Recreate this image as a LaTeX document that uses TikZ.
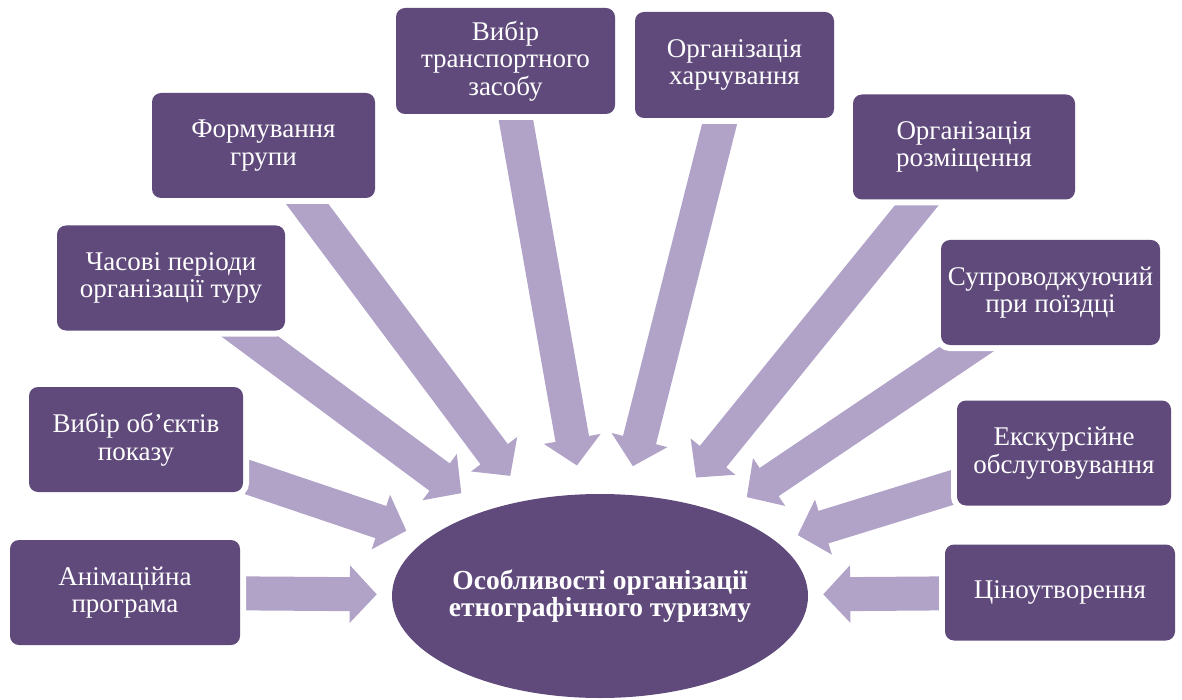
\documentclass[tikz,border=0pt]{standalone}
\usepackage{fontspec}
\setmainfont{Liberation Serif}
\usetikzlibrary{arrows.meta,shapes.geometric,backgrounds}
\definecolor{etnoplum}{RGB}{95,74,123}
\definecolor{etnolilac}{RGB}{177,162,200}

\begin{document}
\begin{tikzpicture}[x=1pt, y=-1pt,
    item/.style={rectangle, rounded corners=9pt, fill=etnoplum, text=white,
      preaction={draw=white, line width=12pt}, align=center, inner sep=0pt,
      minimum height=105pt, font=\fontsize{27}{27.5}\selectfont},
    hub/.style={ellipse, fill=etnoplum, text=white, align=center,
      inner ysep=0pt, inner xsep=-20pt,
      minimum width=416pt, minimum height=204pt,
      font=\bfseries\fontsize{27.5}{27.5}\selectfont},
    feed/.style={draw=etnolilac, line width=34pt, -{Triangle[length=27pt, width=56pt]}}
  ]
  \useasboundingbox (0,0) rectangle (1182,700);

  % boxes round the hub
  \node[item, minimum width=230pt] (anim) at (125,592.5) {Анімаційна\\програма};
  \node[item, minimum width=214pt] (objects) at (136,439.5) {Вибір об’єктів\\показу};
  \node[item, minimum width=228pt] (periods) at (171,278) {Часові періоди\\організації туру};
  \node[item, minimum width=223pt] (group) at (263.5,145.5) {Формування\\групи};
  \node[item, minimum width=219pt, minimum height=106pt] (transport) at (505.5,61) {Вибір\\транспортного\\засобу};
  \node[item, minimum width=199pt, minimum height=106pt] (food) at (734.5,65) {Організація\\харчування};
  \node[item, minimum width=222pt] (lodging) at (964,147) {Організація\\розміщення};
  \node[item, minimum width=219pt] (escort) at (1050.5,292.5) {Супроводжуючий\\при поїздці};
  \node[item, minimum width=214pt] (excursion) at (1064,453) {Екскурсійне\\обслуговування};
  \node[item, minimum width=230pt, minimum height=96pt] (pricing) at (1060,592.5) {Ціноутворення};

  % centre and the ring where the tips stop
  \node[hub] (centre) at (600,596) {Особливості організації\\етнографічного туризму};
  \node[ellipse, inner sep=0pt, minimum width=446pt, minimum height=262pt] (ring) at (600,596) {};

  \begin{scope}[on background layer]
    \foreach \b in {anim,objects,periods,group,transport,food,lodging,escort,excursion,pricing}
      \draw[feed] (\b.center) -- (ring);
  \end{scope}
\end{tikzpicture}
\end{document}
